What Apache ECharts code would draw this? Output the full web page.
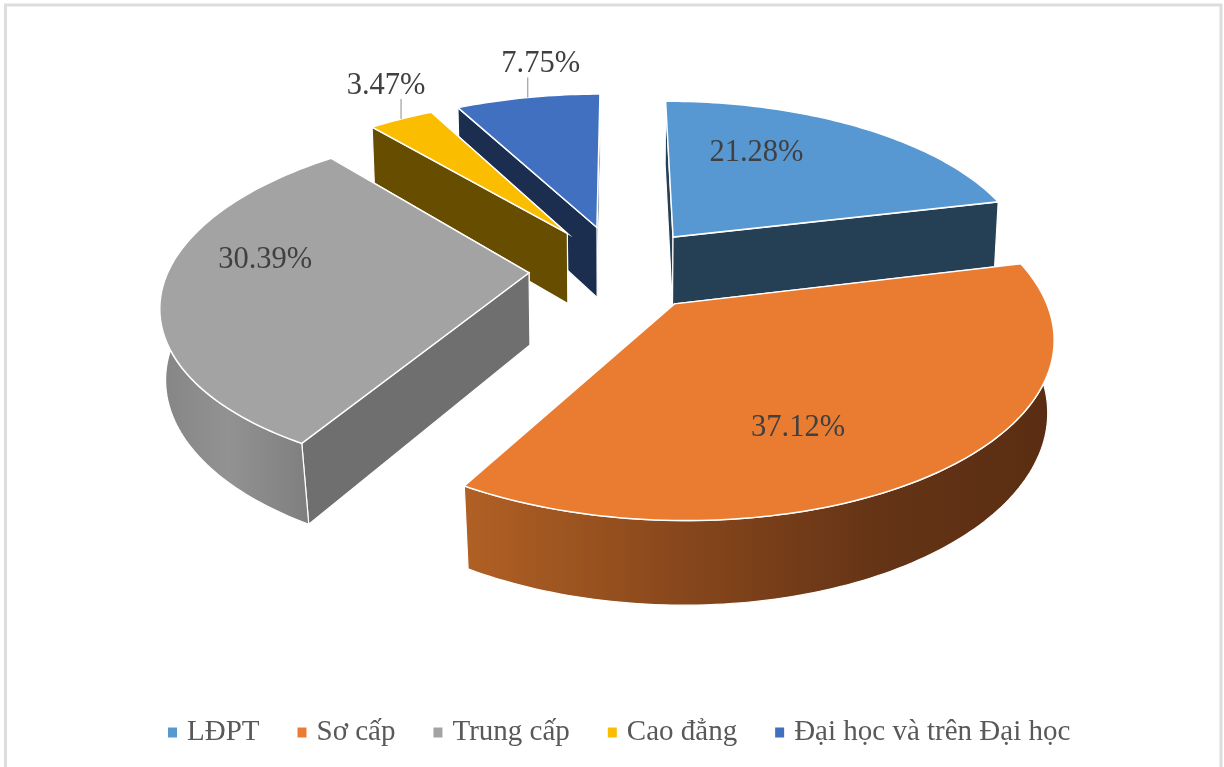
<!DOCTYPE html>
<html><head><meta charset="utf-8">
<style>html,body{margin:0;padding:0;background:#fff;overflow:hidden}#c{width:1224px;height:767px}</style>
<script src="https://cdn.jsdelivr.net/npm/echarts@6/dist/echarts.min.js"></script>
</head><body><div id="c"></div>
<script>
const categories = ['LĐPT','Sơ cấp','Trung cấp','Cao đẳng','Đại học và trên Đại học'];
const values = [21.28,37.12,30.39,3.47,7.75];
const topColors = ['#5898D2','#EA7C31','#A3A3A3','#FBBD00','#4170C1'];
const wallColors = ['#253F55','#5F3014','#6F6F6F','#664D00','#1B2E50'];
const drawOrder = [4,3,0,2,1];
// label placement: fractional radius on the mid-angle, outside labels get a leader
const labelRadius = [0.62,0.66,0.72,1.0,1.0];
const leaderLen = [0,0,0,20,20];
const labelShift = [[-37,-13],[-43,19],[-1,-24],[-15,-13],[13,-14]];
const explode = [0.25,0.25,0.25,0.265,0.265];

const proj = {cx:619, cy:269, A:360, B:168, k:0.165, D:72, depthPow:0.73};
const total = values.reduce((a,b)=>a+b,0);
const starts = []; { let acc=0; values.forEach(v=>{starts.push(acc/total*Math.PI*2); acc+=v;}); }
function P(X,Y,down){
  const w = 1/(1+proj.k*Y);
  const sx = proj.A*X*w, sy = proj.cy-proj.B*Y*w;
  const conv = 1-(0.01+0.07*Math.max(0,w-1));
  return down ? [proj.cx+sx*conv, sy+proj.D*Math.pow(w,proj.depthPow)] : [proj.cx+sx, sy];
}
function sector(i,tA,tB,down,rim){
  const m = starts[i]+values[i]/total*Math.PI;
  const ox = explode[i]*Math.sin(m), oy = explode[i]*Math.cos(m);
  const out=[]; const n=Math.max(2,Math.ceil((tB-tA)/0.02));
  for(let s=0;s<=n;s++){const t=tA+(tB-tA)*s/n; out.push(P(ox+Math.sin(t),oy+Math.cos(t),down));}
  if(!rim) out.unshift(P(ox,oy,down));
  return out;
}
function gp(i,t,r,down){
  const m = starts[i]+values[i]/total*Math.PI;
  return P(explode[i]*Math.sin(m)+r*Math.sin(t),explode[i]*Math.cos(m)+r*Math.cos(t),down);
}
const wallFill = {
 1:{type:'linear',x:467,y:0,x2:1050,y2:0,global:true,colorStops:[{offset:0,color:'#B06024'},{offset:.4,color:'#84451B'},{offset:.7,color:'#653416'},{offset:1,color:'#5A2D12'}]},
 2:{type:'linear',x:160,y:0,x2:312,y2:0,global:true,colorStops:[{offset:0,color:'#858585'},{offset:.45,color:'#929292'},{offset:1,color:'#7E7E7E'}]}
};
function render(i){
  return function(){
    const a=starts[i], b=a+values[i]/total*Math.PI*2, m=(a+b)/2;
    const kids=[]; const line={stroke:'#fff',lineWidth:1.2};
    const poly=(pts,fill,st)=>kids.push({type:'polygon',shape:{points:pts},style:Object.assign({fill:fill},st||line)});
    const rad=(t)=>{const c=gp(i,0,0,false),e=gp(i,t,1,false),e2=gp(i,t,1,true),c2=gp(i,0,0,true);return [c,e,e2,c2];};
    // walls facing away first
    const walls=[[a,Math.sin(a)],[b,-Math.sin(b)]].sort((p,q)=>q[1]-p[1]);
    walls.forEach(w=>poly(rad(w[0]),wallColors[i]));
    const lo=Math.max(a,Math.PI/2), hi=Math.min(b,Math.PI*1.5);
    if(hi>lo){
      const top=sector(i,lo,hi,false,true), bot=sector(i,lo,hi,true,true).reverse();
      poly(top.concat(bot),wallFill[i]||wallColors[i]);
    }
    poly(sector(i,a,b,false,false),topColors[i],{stroke:'#fff',lineWidth:1.5});
    const r=labelRadius[i]; const lp=gp(i,m,r,false);
    let tx=lp[0], ty=lp[1];
    if(leaderLen[i]){
      kids.push({type:'line',shape:{x1:lp[0],y1:lp[1],x2:lp[0],y2:lp[1]-leaderLen[i]},style:{stroke:'#A6A6A6',lineWidth:1.3}});
      ty=lp[1]-leaderLen[i];
    }
    kids.push({type:'text',x:tx+labelShift[i][0],y:ty+labelShift[i][1],style:{text:values[i].toFixed(2)+'%',fill:'#404040',font:'30.5px "Liberation Serif"',textAlign:'center',textVerticalAlign:'middle'}});
    return {type:'group',children:kids};
  };
}
const chart=echarts.init(document.getElementById('c'),null,{renderer:'canvas'});
chart.setOption({
  animation:false,
  backgroundColor:'#fff',
  graphic:[{type:'rect',shape:{x:5.5,y:5,width:1215.5,height:775},style:{fill:'none',stroke:'#DDDDDD',lineWidth:3},silent:true}],
  legend:{data:categories,icon:'rect',itemWidth:9,itemHeight:10,itemGap:38,left:163,top:713,
    textStyle:{color:'#595959',fontFamily:'Liberation Serif',fontSize:29,padding:[0,0,0,5]}},
  series:categories.map((name,i)=>({
    type:'custom',name:name,coordinateSystem:'none',z:2+drawOrder.indexOf(i),
    itemStyle:{color:topColors[i]},data:[{name:name,value:values[i]}],renderItem:render(i),silent:true
  }))
});
</script></body></html>
